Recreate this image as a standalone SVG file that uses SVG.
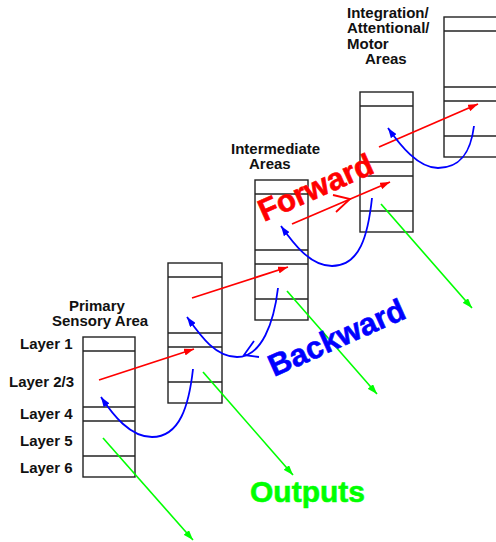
<svg xmlns="http://www.w3.org/2000/svg" width="496" height="542" viewBox="0 0 496 542">
<defs>
<style>
.box{fill:none;stroke:#222;stroke-width:1.4}
.ln{stroke:#222;stroke-width:1.4}
.t{font-family:"Liberation Sans",Arial,sans-serif;font-weight:bold;font-size:15px;fill:#111}
.lay{font-family:"Liberation Sans",Arial,sans-serif;font-weight:bold;font-size:15px;fill:#111}
.big{font-family:"Liberation Sans",Arial,sans-serif;font-weight:bold;font-size:31px;stroke-width:0.6}
.red{stroke:#ff0000;stroke-width:1.8;fill:none}
.blue{stroke:#0000ff;stroke-width:1.8;fill:none}
.green{stroke:#00ff00;stroke-width:1.6;fill:none}
</style>
<marker id="ar" markerUnits="userSpaceOnUse" markerWidth="11" markerHeight="7" refX="10" refY="3.5" orient="auto"><path d="M0,0 L10,3.5 L0,7 z" fill="#ff0000"/></marker>
<marker id="ab" markerUnits="userSpaceOnUse" markerWidth="11" markerHeight="7" refX="10" refY="3.5" orient="auto"><path d="M0,0 L10,3.5 L0,7 z" fill="#0000ff"/></marker>
<marker id="ag" markerUnits="userSpaceOnUse" markerWidth="11" markerHeight="7" refX="10" refY="3.5" orient="auto"><path d="M0,0 L10,3.5 L0,7 z" fill="#00ff00"/></marker>
</defs>
<rect width="496" height="542" fill="#fff"/>

<g id="primary">
<rect class="box" x="83" y="337" width="52" height="140"/>
<line class="ln" x1="83" y1="351" x2="135" y2="351"/>
<line class="ln" x1="83" y1="407" x2="135" y2="407"/>
<line class="ln" x1="83" y1="421" x2="135" y2="421"/>
<line class="ln" x1="83" y1="456" x2="135" y2="456"/>
<text class="t" x="69" y="311">Primary</text>
<text class="t" x="52" y="326">Sensory Area</text>
<text class="lay" x="20" y="349">Layer 1</text>
<text class="lay" x="9" y="387">Layer 2/3</text>
<text class="lay" x="20" y="419">Layer 4</text>
<text class="lay" x="20" y="446">Layer 5</text>
<text class="lay" x="20" y="473">Layer 6</text>
</g>

<g id="area2">
<rect class="box" x="168" y="263" width="54" height="140"/>
<line class="ln" x1="168" y1="277" x2="222" y2="277"/>
<line class="ln" x1="168" y1="333" x2="222" y2="333"/>
<line class="ln" x1="168" y1="347" x2="222" y2="347"/>
<line class="ln" x1="168" y1="382" x2="222" y2="382"/>
</g>

<g id="intermediate">
<rect class="box" x="255" y="180" width="53" height="140"/>
<line class="ln" x1="255" y1="194" x2="308" y2="194"/>
<line class="ln" x1="255" y1="250" x2="308" y2="250"/>
<line class="ln" x1="255" y1="264" x2="308" y2="264"/>
<line class="ln" x1="255" y1="299" x2="308" y2="299"/>
<text class="t" x="231" y="154">Intermediate</text>
<text class="t" x="249" y="169">Areas</text>
</g>

<g id="area4">
<rect class="box" x="360" y="92" width="53" height="140"/>
<line class="ln" x1="360" y1="106" x2="413" y2="106"/>
<line class="ln" x1="360" y1="162" x2="413" y2="162"/>
<line class="ln" x1="360" y1="176" x2="413" y2="176"/>
<line class="ln" x1="360" y1="211" x2="413" y2="211"/>
</g>

<g id="integration">
<rect class="box" x="444" y="17" width="60" height="140"/>
<line class="ln" x1="444" y1="31" x2="504" y2="31"/>
<line class="ln" x1="444" y1="87" x2="504" y2="87"/>
<line class="ln" x1="444" y1="101" x2="504" y2="101"/>
<line class="ln" x1="444" y1="136" x2="504" y2="136"/>
<text class="t" x="347" y="18">Integration/</text>
<text class="t" x="347" y="33">Attentional/</text>
<text class="t" x="347" y="49">Motor</text>
<text class="t" x="365" y="64">Areas</text>
</g>

<g id="connectors">
<line class="red" x1="99" y1="380" x2="194" y2="349" marker-end="url(#ar)"/>
<line class="red" x1="192" y1="298" x2="288" y2="267" marker-end="url(#ar)"/>
<line class="red" x1="292" y1="224" x2="390" y2="182" marker-end="url(#ar)"/>
<polyline class="red" points="333,195 350,199 336,212"/>
<line class="red" x1="379" y1="147" x2="478" y2="104" marker-end="url(#ar)"/>

<path class="blue" d="M193,369 C189,405 180,437 152,437 C130,437 113,415 101,397" marker-end="url(#ab)"/>
<path class="blue" d="M278,288 C274,322 262,357 237,357 C215,357 200,335 187,317" marker-end="url(#ab)"/>
<polyline class="blue" points="254,341 244,355 259,357"/>
<path class="blue" d="M372,198 C368,235 360,266 332,266 C310,266 293,243 281,226" marker-end="url(#ab)"/>
<path class="blue" d="M474,126 C471,150 462,168 438,168 C418,168 400,145 388,128" marker-end="url(#ab)"/>

<line class="green" x1="103" y1="438" x2="193" y2="540" marker-end="url(#ag)"/>
<line class="green" x1="203" y1="372" x2="293" y2="475" marker-end="url(#ag)"/>
<line class="green" x1="287" y1="291" x2="377" y2="394" marker-end="url(#ag)"/>
<line class="green" x1="381" y1="204" x2="472" y2="308" marker-end="url(#ag)"/>
</g>

<text class="big" fill="#ff0000" stroke="#ff0000" transform="translate(264,222) rotate(-24)">Forward</text>
<text class="big" fill="#0000ff" stroke="#0000ff" transform="translate(274,377) rotate(-24)">Backward</text>
<text class="big" fill="#00ff00" stroke="#00ff00" x="250" y="502" style="font-size:30px">Outputs</text>
</svg>
